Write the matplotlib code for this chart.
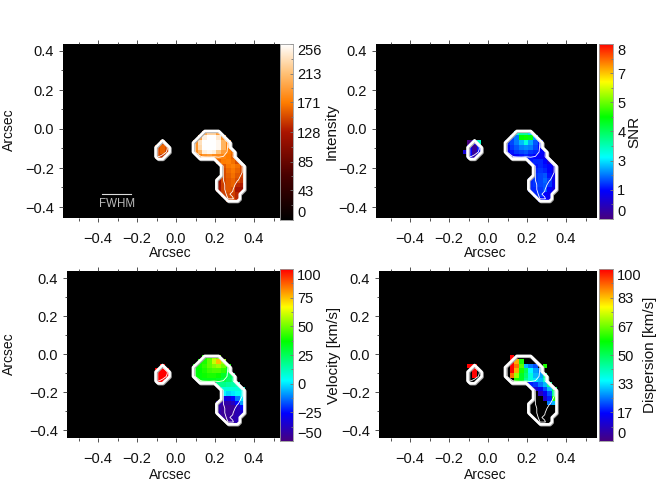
import numpy as np
import matplotlib
matplotlib.use("Agg")
import matplotlib.pyplot as plt
from matplotlib.colors import LinearSegmentedColormap
from matplotlib.ticker import MultipleLocator, FixedLocator, FixedFormatter
import matplotlib.patheffects as pe

plt.rcParams['font.family'] = ['Liberation Sans', 'DejaVu Sans']
N = np.nan

# Rows of each map: first column index relative to the main blob, then values
starts_main = [2, 1, 0, 0, 0, 1, 5, 6, 6, 6, 5, 5, 5, 6, 7]
intensity_main = [
    [200, 225, 225, 190],
    [195, 245, 255, 255, 240, 185],
    [185, 235, 255, 256, 256, 250, 205, 175],
    [185, 230, 255, 256, 256, 250, 205, 172],
    [180, 205, 245, 250, 245, 215, 190, 172, 165],
    [170, 185, 190, 180, 178, 175, 170, 160],
    [160, 170, 172, 165, 150],
    [155, 168, 172, 165, 150],
    [150, 162, 168, 160, 150],
    [150, 158, 165, 155, 145],
    [115, 148, 155, 160, 150, 140],
    [120, 145, 155, 160, 135, 130],
    [125, 145, 155, 150, 125, 120],
    [145, 150, 145, 135],
    [150, 150, 135],
]
snr_main = [
    [3, 3.5, 3.5, 2.5],
    [1.7, 2.0, 4.6, 4.7, 4.5, 2.2],
    [1.5, 1.7, 2.0, 2.4, 3.0, 2.3, 1.8, 1.4],
    [1.3, 1.6, 1.8, 2.0, 2.1, 2.0, 1.7, 1.3],
    [1.2, 1.4, 1.6, 1.7, 1.8, 1.6, 1.5, 1.3, 1.2],
    [1.1, 1.3, 1.4, 1.5, 1.4, 1.3, 1.2, 1.1],
    [1.4, 1.5, 1.5, 1.3, 0.8],
    [1.4, 1.5, 1.4, 1.3, 1.0],
    [1.5, 1.6, 1.5, 1.3, 1.0],
    [1.6, 1.7, 1.8, 1.4, 1.1],
    [1.5, 1.6, 1.7, 1.9, 1.6, 1.1],
    [1.5, 1.6, 1.7, 1.8, 1.6, 1.2],
    [1.5, 1.5, 1.6, 1.8, 1.3, 1.0],
    [1.5, 1.6, 1.3, 1.1],
    [1.3, 1.3, 1.1],
]
velocity_main = [
    [40, 45, 55, 50],
    [38, 40, 48, 60, 75, 55],
    [35, 38, 42, 48, 52, 55, 50, 38],
    [35, 37, 40, 44, 46, 46, 42, 32],
    [36, 36, 38, 40, 40, 38, 32, 26, 22],
    [35, 34, 34, 34, 32, 28, 24, 20],
    [18, 18, 16, 14, 12],
    [8, 8, 8, 8, 6],
    [2, -2, 0, 4, 4],
    [-30, -32, -25, -12, 0],
    [-40, -42, -42, -38, -25, -8],
    [-42, -45, -45, -45, -40, -25],
    [-42, -45, -45, -45, -40, -35],
    [-45, -45, -42, -40],
    [-45, -42, -40],
]
starts_disp = [1, 1, 1, 1, 1, 2, 5, 6, 7, 8, 9]
dispersion_main = [
    [100],
    [100, 85, 60],
    [100, 90, 65, 30, 25, 22, N, 60],
    [100, 85, 60, 50, 35, 28, 25],
    [90, 70, 55, 48, 38, 30, 28, 45],
    [60, 55, 45, 38, 33, 30, 40],
    [18, 20, 25, 30, 45],
    [10, 15, 22, 30, 50],
    [8, 15, 22, 45],
    [10, 18, 60],
    [25, 30],
]
starts_small = [-8, -8, -8, -8]
starts_small_snr = [-8, -8, -9, -9]
intensity_small = [[N, 150], [150, 160, 150], [150, 160, 145], [150, 140]]
snr_small = [[0.0, 1.0, 3.2], [1.1, 0.2, 1.4], [0.9, 1.3, 0.3, 1.2], [N, 1.2, 0.5]]
velocity_small = [[N, 100], [100, 100, 100], [100, 100, 100], [100, 100]]
dispersion_small = [[100, 100], [N, 100], [N, 100], [N, N]]

cbar_ticks = [
    ([0, 43, 85, 128, 171, 213, 256], ['0', '43', '85', '128', '171', '213', '256']),
    ([0, 4/3, 8/3, 4, 16/3, 20/3, 8], ['0', '1', '3', '4', '5', '7', '8']),
    ([-50, -25, 0, 25, 50, 75, 100], ['\u221250', '\u221225', '0', '25', '50', '75', '100']),
    ([0, 50/3, 100/3, 50, 200/3, 250/3, 100], ['0', '17', '33', '50', '67', '83', '100']),
]
cbar_labels = ['Intensity', 'SNR', 'Velocity [km/s]', 'Dispersion [km/s]']
ranges = [(0, 256), (0, 8), (-50, 100), (0, 100)]

hot = LinearSegmentedColormap.from_list('hotorange', [
    (0.0, (0, 0, 0)), (0.25, (0.28, 0, 0)), (0.5, (0.67, 0.08, 0)),
    (0.667, (1, 0.49, 0)), (0.83, (1, 0.75, 0.45)), (1.0, (1, 1, 1))])
rainbow = LinearSegmentedColormap.from_list('idlrainbow', [
    (0.0, (0.28, 0, 0.5)), (0.16, (0, 0, 1)), (0.35, (0, 1, 1)),
    (0.58, (0, 1, 0)), (0.78, (1, 1, 0)), (1.0, (1, 0, 0))])
cmaps = [hot, rainbow, rainbow, rainbow]

# layout, in pixels of the 665x490 picture
W, H = 665, 490
CELL = 0.0240
COL0, ROW0 = 0.087, -0.010
panels = [  # left, right, top, bottom, x of 0, y of 0, y scale
    (63, 280, 44, 218, 176, 129, 195),
    (376, 597, 44, 218, 488, 129, 195),
    (67, 280, 271, 438, 176, 354, 190),
    (379, 597, 271, 438, 488, 354, 190),
]
cbars = [(280, 293, 44, 220), (599, 613, 44, 219), (280, 293, 269, 441), (599, 613, 269, 441)]
xlab = [(170, 253), (485, 253), (170, 475), (485, 475)]
ylab = [(9, 130), None, (9, 354), None]
clab = [(332, 132), (634, 132), (334, 355), (650, 355)]

NCOL, NROW, C0, R0 = 23, 18, -10, -1

def build(main, starts, small, small_starts=starts_small):
    g = np.full((NROW, NCOL), N)
    for rows, st, r_off in ((main, starts, 0), (small, small_starts, 2)):
        for i, (row, s) in enumerate(zip(rows, st)):
            for j, v in enumerate(row):
                g[i + r_off - R0, s + j - C0] = v
    return g

maps = [build(intensity_main, starts_main, intensity_small),
        build(snr_main, starts_main, snr_small, starts_small_snr),
        build(velocity_main, starts_main, velocity_small),
        build(dispersion_main, starts_disp, dispersion_small)]
base = np.nan_to_num(maps[0])
mask = (base > 0).astype(float)
xc = COL0 + (np.arange(NCOL) + C0 + 0.5) * CELL
yc = ROW0 - (np.arange(NROW) + R0 + 0.5) * CELL
extent = [xc[0] - CELL / 2, xc[-1] + CELL / 2, yc[-1] - CELL / 2, yc[0] + CELL / 2]

fig = plt.figure(figsize=(W / 100, H / 100), dpi=100, facecolor='white')

def rect(l, r, t, b):
    return [l / W, 1 - b / H, (r - l) / W, (b - t) / H]

fs = 10.5
for i, (p, cb) in enumerate(zip(panels, cbars)):
    l, r, t, b, x0, y0, sy = p
    ax = fig.add_axes(rect(l, r, t, b), facecolor='black')
    vmin, vmax = ranges[i]
    ax.imshow(maps[i], cmap=cmaps[i], vmin=vmin, vmax=vmax, extent=extent,
              aspect='auto', interpolation='nearest', zorder=1)
    ax.contour(xc, yc, base, levels=[148, 176], colors='white', linewidths=0.6, zorder=2)
    cs = ax.contour(xc, yc, mask, levels=[0.5], colors='white', linewidths=1.9, zorder=3)
    cs.set_path_effects([pe.Stroke(linewidth=1.9, foreground='#aaaaaa', offset=(0.6, -0.6)), pe.Normal()])
    ax.set_xlim((l - x0) / 195, (r - x0) / 195)
    ax.set_ylim((y0 - b) / sy, (y0 - t) / sy)
    ax.xaxis.set_major_locator(MultipleLocator(0.2))
    ax.yaxis.set_major_locator(MultipleLocator(0.2))
    ax.xaxis.set_minor_locator(MultipleLocator(0.1))
    ax.yaxis.set_minor_locator(MultipleLocator(0.1))
    ax.xaxis.set_major_formatter(lambda v, pos: f"{v:.1f}".replace('-', '\u2212') if abs(v) > 1e-6 else '0.0')
    ax.yaxis.set_major_formatter(lambda v, pos: f"{v:.1f}".replace('-', '\u2212') if abs(v) > 1e-6 else '0.0')
    ax.tick_params(which='major', direction='out', length=3.2, width=0.6, top=True, right=False,
                   labelsize=fs, color='#333333', pad=3.3, labelcolor='#111111')
    ax.tick_params(which='minor', direction='out', length=1.8, width=0.6, top=True, right=False, color='#333333')
    ax.tick_params(axis='x', pad=7)
    for s in ax.spines.values():
        s.set_visible(False)
    fig.text(xlab[i][0] / W, 1 - xlab[i][1] / H, 'Arcsec', ha='center', va='center', fontsize=10, color='#111111')
    if ylab[i]:
        fig.text(ylab[i][0] / W, 1 - ylab[i][1] / H, 'Arcsec', ha='center', va='center', rotation=90, fontsize=10, color='#111111')

    if i == 0:
        ax.plot([(102 - x0) / 195, (131 - x0) / 195], [(y0 - 194) / sy] * 2, color='#dddddd', lw=0.8, zorder=4)
        ax.text((117 - x0) / 195, (y0 - 204) / sy, 'FWHM', color='#bbbbbb', fontsize=8.3,
                ha='center', va='center', zorder=4)

    # colour bar
    cax = fig.add_axes(rect(cb[0], cb[1], cb[2], cb[3]))
    grad = np.linspace(vmin, vmax, 256).reshape(-1, 1)
    cax.imshow(grad, cmap=cmaps[i], vmin=vmin, vmax=vmax, aspect='auto', origin='lower',
               extent=[0, 1, vmin, vmax], interpolation='bilinear')
    tv, tl = cbar_ticks[i]
    cax.set_xticks([])
    cax.yaxis.tick_right()
    cax.yaxis.set_major_locator(FixedLocator(tv))
    cax.yaxis.set_major_formatter(FixedFormatter(tl))
    mids = [(a + c) / 2 for a, c in zip(tv[:-1], tv[1:])]
    cax.yaxis.set_minor_locator(FixedLocator(mids))
    cax.tick_params(which='major', axis='y', direction='in', length=2.5, width=0.6, labelsize=fs,
                    color='#777777', pad=3, labelcolor='#111111')
    cax.tick_params(which='minor', axis='y', direction='in', length=1.5, width=0.6, color='#777777')
    labs = cax.get_yticklabels()
    labs[0].set_verticalalignment('bottom')
    labs[-1].set_verticalalignment('top')
    for s in cax.spines.values():
        s.set_linewidth(0.6)
        s.set_color('#999999')
    fig.text(clab[i][0] / W, 1 - clab[i][1] / H, cbar_labels[i], rotation=90, ha='center', va='center',
             fontsize=11, color='#111111')

fig.savefig('out.png', dpi=100, facecolor='white')
